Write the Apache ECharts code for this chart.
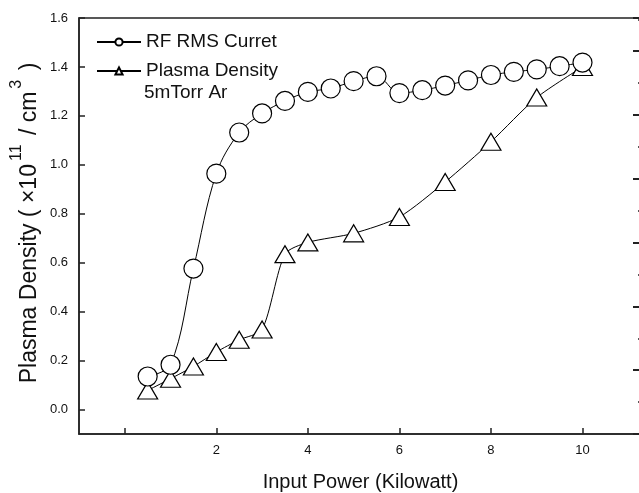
<!DOCTYPE html>
<html><head><meta charset="utf-8">
<script src="https://cdn.jsdelivr.net/npm/echarts@6/dist/echarts.min.js"></script>
<style>html,body{margin:0;padding:0;background:#fff}#c{width:639px;height:493px}</style>
</head><body><div id="c"></div>
<script>
// ---- data ----
const powerCurrent = [0.5, 1, 1.5, 2, 2.5, 3, 3.5, 4, 4.5, 5, 5.5, 6, 6.5, 7, 7.5, 8, 8.5, 9, 9.5, 10];
const rfCurrent    = [0.135, 0.183, 0.576, 0.964, 1.132, 1.21, 1.261, 1.298, 1.312, 1.342, 1.362, 1.293, 1.305, 1.324, 1.345, 1.367, 1.38, 1.39, 1.403, 1.418];
const powerDensity = [0.5, 1, 1.5, 2, 2.5, 3, 3.5, 4, 5, 6, 7, 8, 9, 10];
const plasmaDensity = [0.078, 0.126, 0.176, 0.235, 0.285, 0.327, 0.635, 0.683, 0.72, 0.787, 0.93, 1.094, 1.275, 1.40];
const xTicks = [0, 2, 4, 6, 8, 10];
const xTickLabels = [2, 4, 6, 8, 10];
const yTicks = [0, 0.2, 0.4, 0.6, 0.8, 1.0, 1.2, 1.4, 1.6];
const seriesNames = ['RF RMS Curret', 'Plasma Density'];
const noteText = '5mTorr Ar';
const xTitle = 'Input Power (Kilowatt)';
// y title pieces: [text, isSuperscript]
const yTitleParts = [['Plasma Density ( \u00d710', false], ['11', true], [' / cm', false], ['3', true], [' )', false]];

const FONT = '"Liberation Sans", Arial, sans-serif';
const INK = '#111';

// build the rotated y-axis title from measured pieces
const measure = document.createElement('canvas').getContext('2d');
const MAIN_SIZE = 23, SUP_SIZE = 16, SUP_PAD = 3;
let widths = yTitleParts.map(([t, sup]) => {
  measure.font = (sup ? SUP_SIZE : MAIN_SIZE) + 'px ' + FONT;
  return measure.measureText(t).width + (sup ? 2 * SUP_PAD : 0);
});
const totalW = widths.reduce((a, b) => a + b, 0);
let cursor = -totalW / 2;
const titleChildren = yTitleParts.map(([t, sup], i) => {
  const el = {
    type: 'text', x: cursor + (sup ? SUP_PAD : 0), y: sup ? -13 : 0,
    style: {text: t, font: (sup ? SUP_SIZE : MAIN_SIZE) + 'px ' + FONT, fill: INK,
            textAlign: 'left', textVerticalAlign: 'middle'}
  };
  cursor += widths[i];
  return el;
});

const chart = echarts.init(document.getElementById('c'), null, {renderer: 'canvas'});
const pairs = (xs, ys) => xs.map((x, i) => [x, ys[i]]);

chart.setOption({
  animation: false,
  backgroundColor: '#fff',
  grid: {left: 79, top: 18, right: -3, bottom: 59, containLabel: false, outerBoundsMode: 'none',
         show: true, borderColor: '#222', borderWidth: 1.5, backgroundColor: 'transparent'},
  legend: {
    orient: 'vertical', left: 91, top: 27, itemWidth: 44, itemHeight: 9, itemGap: 9,
    textStyle: {fontFamily: FONT, fontSize: 19, color: INK, lineHeight: 20},
    data: seriesNames
  },
  graphic: [{
    type: 'text', left: 144, top: 83,
    style: {text: noteText, font: '19px ' + FONT, fill: INK}
  }, {
    type: 'group', x: 30, y: 223, rotation: Math.PI / 2,
    children: titleChildren
  }],
  xAxis: {
    type: 'value', min: -1, max: 11.3,
    name: xTitle, nameLocation: 'middle', nameGap: 38,
    nameTextStyle: {fontFamily: FONT, fontSize: 20, color: INK},
    axisLine: {show: true, onZero: false, lineStyle: {color: '#222', width: 1.5}},
    axisTick: {show: true, inside: true, length: 6, customValues: xTicks, lineStyle: {color: '#222', width: 1.5}},
    axisLabel: {customValues: xTickLabels, margin: 10, fontFamily: FONT, fontSize: 13, color: INK},
    splitLine: {show: false}
  },
  yAxis: [{
    type: 'value', min: -0.1, max: 1.6, position: 'left',
    axisLine: {show: true, onZero: false, lineStyle: {color: '#222', width: 1.5}},
    axisTick: {show: true, inside: true, length: 6, customValues: yTicks, lineStyle: {color: '#222', width: 1.5}},
    axisLabel: {customValues: yTicks, margin: 11, fontFamily: FONT, fontSize: 13, color: INK,
      formatter: v => Number(v).toFixed(1)},
    splitLine: {show: false}
  }, {
    type: 'value', min: 0, max: 6.52, interval: 1, position: 'right',
    axisLine: {show: false, onZero: false},
    axisTick: {show: true, inside: true, length: 9, lineStyle: {color: '#222', width: 2}},
    minorTick: {show: true, splitNumber: 2, length: 4, lineStyle: {color: '#222', width: 1.5}},
    axisLabel: {show: false},
    splitLine: {show: false}
  }],
  series: [{
    name: seriesNames[0], type: 'line', yAxisIndex: 0,
    data: pairs(powerCurrent, rfCurrent),
    smooth: 0.35, symbol: 'circle', symbolSize: 19, showAllSymbol: true,
    lineStyle: {color: '#000', width: 1},
    itemStyle: {color: '#fff', borderColor: '#000', borderWidth: 1.2},
    z: 3
  }, {
    name: seriesNames[1], type: 'line', yAxisIndex: 0,
    data: pairs(powerDensity, plasmaDensity),
    smooth: 0.25, symbol: 'triangle', symbolSize: [20, 17], showAllSymbol: true,
    lineStyle: {color: '#000', width: 1},
    itemStyle: {color: '#fff', borderColor: '#000', borderWidth: 1.2},
    z: 2
  }]
});
</script>
</body></html>
